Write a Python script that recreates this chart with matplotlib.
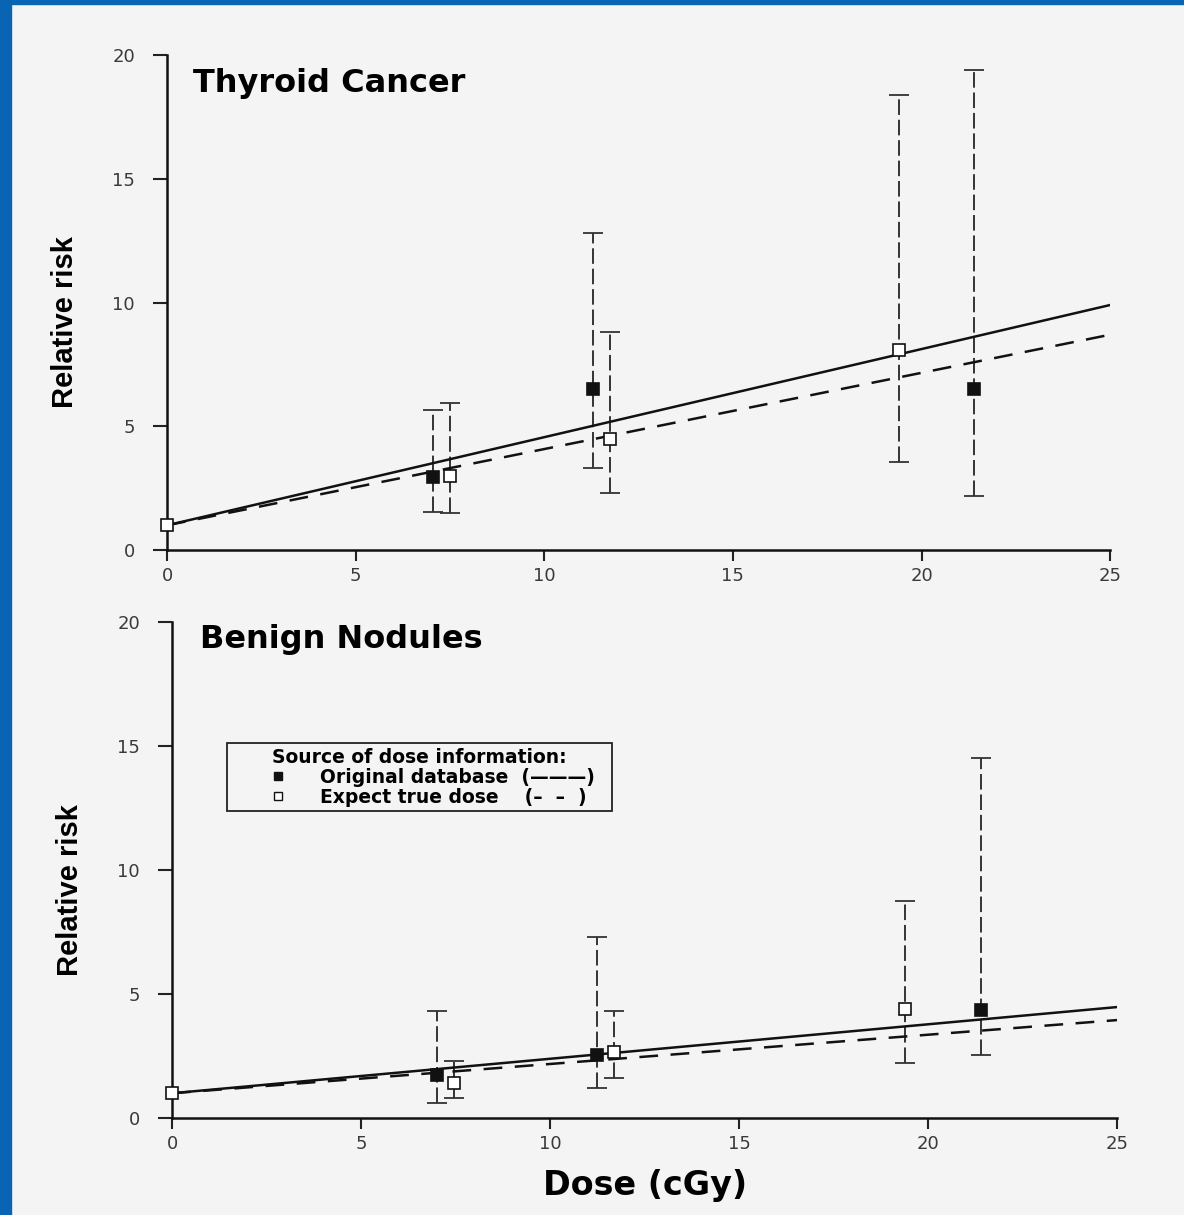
import numpy as np
import matplotlib
matplotlib.use("Agg")
import matplotlib.pyplot as plt
from matplotlib.patches import Rectangle
from matplotlib.lines import Line2D

# reference point (unexposed group)
ref_dose = [0.0]
ref_rr = [1.0]

# thyroid cancer - original database
tc_orig_dose = [7.05, 11.3, 21.4]
tc_orig_rr = [2.95, 6.5, 6.5]
tc_orig_lo = [1.55, 3.3, 2.2]
tc_orig_hi = [5.65, 12.8, 19.4]

# thyroid cancer - expected true dose
tc_exp_dose = [7.5, 11.75, 19.4]
tc_exp_rr = [3.0, 4.5, 8.1]
tc_exp_lo = [1.5, 2.3, 3.55]
tc_exp_hi = [5.95, 8.8, 18.4]

# benign nodules - original database
bn_orig_dose = [7.0, 11.25, 21.4]
bn_orig_rr = [1.75, 2.55, 4.35]
bn_orig_lo = [0.6, 1.2, 2.55]
bn_orig_hi = [4.3, 7.3, 14.5]

# benign nodules - expected true dose
bn_exp_dose = [7.45, 11.7, 19.4]
bn_exp_rr = [1.4, 2.65, 4.4]
bn_exp_lo = [0.8, 1.6, 2.2]
bn_exp_hi = [2.3, 4.3, 8.75]

# linear excess relative risk per cGy (RR = 1 + slope * dose)
tc_slope_orig = 0.356
tc_slope_exp = 0.308
bn_slope_orig = 0.139
bn_slope_exp = 0.118

x_ticks = [0, 5, 10, 15, 20, 25]
y_ticks = [0, 5, 10, 15, 20]

BG = "#f4f4f4"
plt.rcParams["font.family"] = ["DejaVu Sans"]


def draw_errors(ax, dose, rr, lo, hi, face):
    yerr = [np.array(rr) - np.array(lo), np.array(hi) - np.array(rr)]
    eb = ax.errorbar(dose, rr, yerr=yerr, fmt="none", ecolor="#333333",
                     elinewidth=1.4, capsize=7, capthick=1.3, zorder=2)
    eb[2][0].set_linestyle((0, (8, 2.5)))
    ax.plot(dose, rr, "s", ms=8, mfc=face, mec="#111111", mew=1.2, zorder=4)


def draw_panel(ax, title, orig, exp, slopes, title_pos):
    fit_x = np.array([0.0, 25.0])
    ax.plot(fit_x, 1 + slopes[0] * fit_x, color="#111111", lw=1.8, zorder=3)
    ax.plot(fit_x, 1 + slopes[1] * fit_x, color="#111111", lw=1.8,
            ls=(0, (7.5, 5)), zorder=3)
    draw_errors(ax, *orig, face="#111111")
    draw_errors(ax, *exp, face="white")
    ax.plot(ref_dose, ref_rr, "s", ms=8, mfc="white", mec="#111111",
            mew=1.2, zorder=4, clip_on=False)

    ax.set_xlim(0, 25)
    ax.set_ylim(0, 20)
    ax.set_xticks(x_ticks)
    ax.set_yticks(y_ticks)
    ax.set_facecolor(BG)
    for s in ["top", "right"]:
        ax.spines[s].set_visible(False)
    for s in ["left", "bottom"]:
        ax.spines[s].set_linewidth(1.8)
        ax.spines[s].set_color("#111111")
    ax.tick_params(axis="both", labelsize=13, labelcolor="#3a3a3a",
                   color="#222222", width=1.5)
    ax.tick_params(axis="x", length=8, pad=4)
    ax.tick_params(axis="y", length=10, pad=13)
    ax.set_ylabel("Relative risk", fontsize=21, fontweight="bold",
                  family="Liberation Sans")
    ax.yaxis.set_label_coords(-0.093, 0.46)
    ax.text(title_pos[0], title_pos[1], title, transform=ax.transAxes,
            fontsize=23, fontweight="bold", va="baseline", ha="left")


fig = plt.figure(figsize=(11.84, 12.15), dpi=100, facecolor=BG)
ax1 = fig.add_axes([0.1411, 0.5473, 0.7965, 0.4074])
ax2 = fig.add_axes([0.1453, 0.0798, 0.7981, 0.4082])

draw_panel(ax1, "Thyroid Cancer",
           (tc_orig_dose, tc_orig_rr, tc_orig_lo, tc_orig_hi),
           (tc_exp_dose, tc_exp_rr, tc_exp_lo, tc_exp_hi),
           (tc_slope_orig, tc_slope_exp), (0.028, 0.925))
draw_panel(ax2, "Benign Nodules",
           (bn_orig_dose, bn_orig_rr, bn_orig_lo, bn_orig_hi),
           (bn_exp_dose, bn_exp_rr, bn_exp_lo, bn_exp_hi),
           (bn_slope_orig, bn_slope_exp), (0.030, 0.948))

# legend for the dose source
handles = [
    Line2D([], [], ls="none", marker="s", ms=6, mfc="#111111", mec="#111111"),
    Line2D([], [], ls="none", marker="s", ms=6, mfc="white", mec="#111111"),
]
labels = ["Original database  (\u2014\u2014\u2014)  ",
          "Expect true dose    (\u2013  \u2013  )  "]
leg = ax2.legend(handles, labels, title="Source of dose information:",
                 loc="upper left", bbox_to_anchor=(0.058, 0.756),
                 borderaxespad=0, prop={"weight": "bold", "size": 13.5},
                 handlelength=5.0, handletextpad=-0.3, borderpad=0.25,
                 labelspacing=0.05, alignment="center", fancybox=False,
                 framealpha=1, facecolor=BG, edgecolor="#222222")
leg.get_title().set_fontweight("bold")
leg.get_title().set_fontsize(13.5)
leg.get_frame().set_linewidth(1.3)

fig.text(645 / 1184, 1 - 1185 / 1215, "Dose (cGy)", ha="center", va="center",
         fontsize=24, fontweight="bold")

# blue scan border on the left and top
fig.add_artist(Rectangle((0, 0), 11 / 1184, 1, transform=fig.transFigure,
                         color="#0a64b4", zorder=10))
fig.add_artist(Rectangle((0, 1 - 4 / 1215), 1, 4 / 1215,
                         transform=fig.transFigure, color="#0a64b4", zorder=10))

fig.savefig("out.png", dpi=100, facecolor=BG)
